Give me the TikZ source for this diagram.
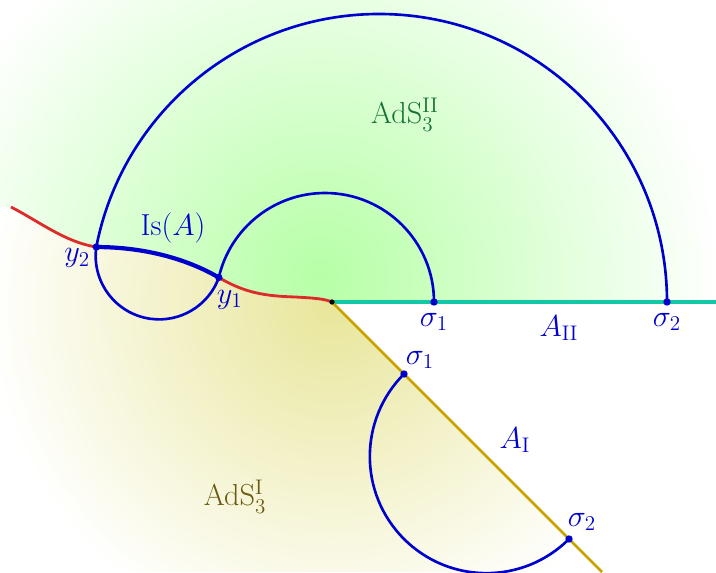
\documentclass[tikz,border=0pt]{standalone}
\usepackage{amsmath}
\usepackage{tikz}
\usetikzlibrary{
  positioning,
  calc
}
\definecolor{GeoBlue}{HTML}{0000CD}
\definecolor{BraneRed}{HTML}{DD2A2A}
\definecolor{BathTeal}{HTML}{12C8A6}
\definecolor{BraneGold}{HTML}{C9A200}
\definecolor{BulkGreen}{HTML}{B6FFA6}
\definecolor{BulkSand}{HTML}{E8E69A}
\definecolor{TxtGreen}{HTML}{16703A}
\definecolor{TxtOlive}{HTML}{6B5A12}
\tikzset{
  % Geodesic arc
  geo/.style={draw=GeoBlue, line width=1.5pt},
  % Island curve
  isl/.style={draw=GeoBlue, line width=2.4pt},
  % Boundary line
  bnd/.style={draw=#1, line width=1.6pt},
  % Marked point
  dot/.style={circle, fill=#1, inner sep=0pt, minimum size=4.2pt},
  % Label
  lbl/.style={font=\LARGE, text=#1, inner sep=1pt}
}
% Brane curve through the island end points
\newcommand{\branepath}{(r0) .. controls (40,350) and (65,330) .. (y2)
  .. controls (135,325) and (180,317) .. (y1)
  .. controls (245,279) and (265,276) .. (295,275)
  .. controls (315,274) and (325,273) .. (O)}
\begin{document}
\begin{tikzpicture}[x=0.02cm, y=0.02cm]
  \useasboundingbox (0,0) rectangle (716,572);

  % Points
  \coordinate (O)  at (332,270);
  \coordinate (r0) at (11,365);
  \coordinate (E)  at (716,270);
  \coordinate (G)  at (602,0);
  \coordinate (s1) at (434,270);
  \coordinate (s2) at (667,270);
  \coordinate (t1) at (404,198);
  \coordinate (t2) at (569,33);
  \coordinate (y2) at ($(379,270)+(169:288)$);
  \coordinate (y1) at ($(325,270)+(167:109)$);

  % Bulk shadings
  \begin{scope}
    \clip (0,572) -- (0,365) -- \branepath -- (E) -- (716,572) -- cycle;
    \shade[inner color=BulkGreen, outer color=white] (320,295) circle (400);
  \end{scope}
  \begin{scope}
    \clip (0,0) -- (0,365) -- \branepath -- (G) -- cycle;
    \shade[inner color=BulkSand, outer color=white] (332,268) circle (345);
  \end{scope}

  % Boundaries
  \draw[bnd=BraneRed]  \branepath;
  \draw[bnd=BathTeal, line width=2pt] (O) -- (E);
  \draw[bnd=BraneGold] (O) -- (G);

  % Geodesics
  \draw[geo] (s2) arc[start angle=0, end angle=169, radius=288];
  \draw[geo] (s1) arc[start angle=0, end angle=167, radius=109];
  \draw[geo] (y2) arc[start angle=172, end angle=340, radius=63.5];
  \draw[geo] (t1) arc[start angle=135, end angle=315, radius=116.67];
  \draw[isl] (y2) .. controls (135,325) and (180,317) .. (y1);

  % Marked points
  \node[dot=black, minimum size=3pt] at (O) {};
  \foreach \p in {y1,y2,s1,s2,t1,t2}
    \node[dot=GeoBlue] at (\p) {};

  % Labels
  \node[lbl=TxtGreen] (adsII) at (405,457) {AdS$_3^{\mathrm{II}}$};
  \node[lbl=TxtOlive] (adsI)  at (235,75)  {AdS$_3^{\mathrm{I}}$};
  \node[lbl=GeoBlue]  (isA)   at (173,344) {Is$(A)$};
  \node[lbl=GeoBlue]  (ly2) at ($(y2)+(-19,-11)$) {$y_2$};
  \node[lbl=GeoBlue]  (ly1) at ($(y1)+(11,-22)$)  {$y_1$};
  \node[lbl=GeoBlue]  (ls1) at ($(s1)+(0,-20)$)   {$\sigma_1$};
  \node[lbl=GeoBlue]  (ls2) at ($(s2)+(0,-20)$)   {$\sigma_2$};
  \node[lbl=GeoBlue]  (lt1) at ($(t1)+(16,14)$)   {$\sigma_1$};
  \node[lbl=GeoBlue]  (lt2) at ($(t2)+(13,17)$)   {$\sigma_2$};
  \node[lbl=GeoBlue]  (aII) at (559,244) {$A_{\mathrm{II}}$};
  \node[lbl=GeoBlue]  (aI)  at (515,132) {$A_{\mathrm{I}}$};

\end{tikzpicture}
\end{document}
